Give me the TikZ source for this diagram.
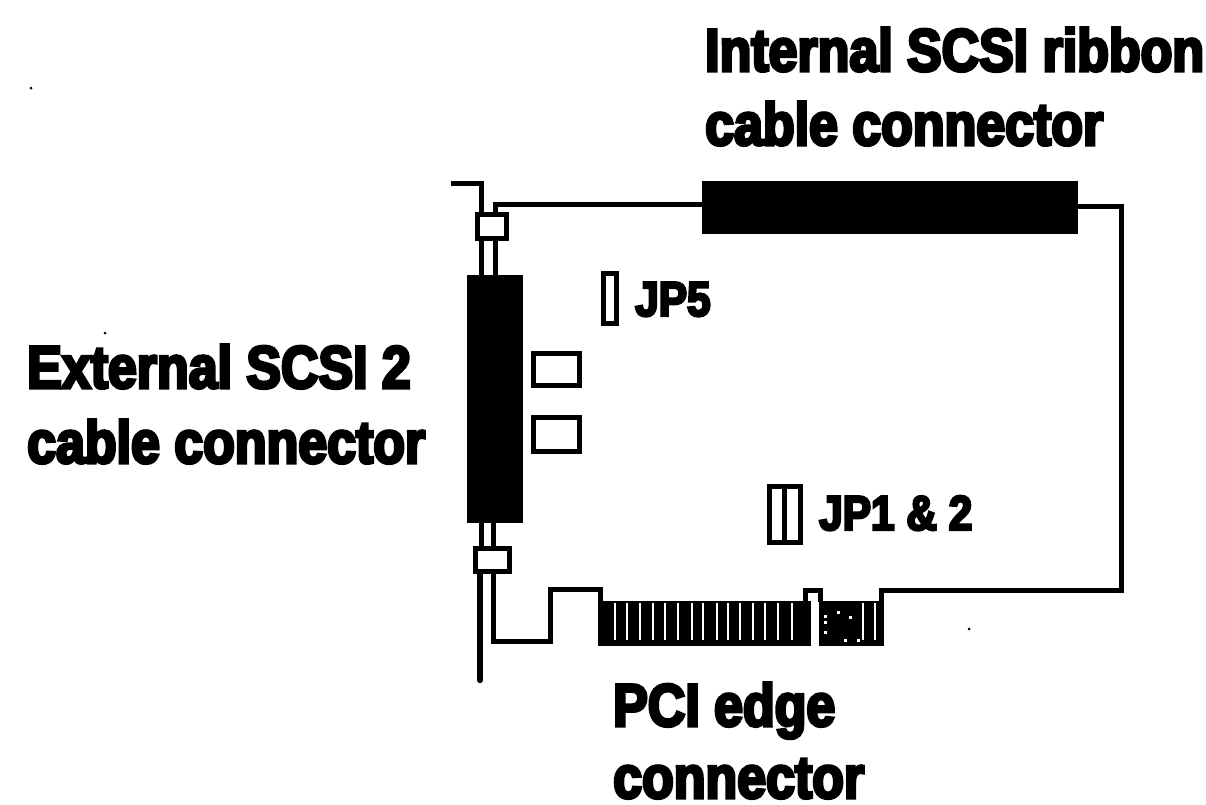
\documentclass[tikz,border=0pt]{standalone}
\usepackage{fontspec}
\setmainfont{Liberation Sans}[BoldFeatures={FakeBold=5,FakeStretch=0.865}]
\tikzset{
  x=1pt,y=-1pt,
  wire/.style={draw=black,line width=5pt,line cap=butt,line join=miter},
  solidbox/.style={fill=black,draw=none},
  slit/.style={fill=white,draw=none},
  outlinebox/.style={draw=black,fill=white,line width=5pt},
  label/.style={font=\fontsize{60}{60}\selectfont\bfseries,anchor=base west,inner sep=0pt,text=black},
  smalllabel/.style={font=\fontsize{49}{49}\selectfont\bfseries,anchor=base west,inner sep=0pt,text=black}
}
\begin{document}
\begin{tikzpicture}
\useasboundingbox (0,0) rectangle (1206,804);
\fill[white] (0,0) rectangle (1206,804);
% bracket and board outline
\draw[wire] (451,183) -- (481,183) -- (481,212);
\draw[wire] (481,240) -- (481,276);
\draw[wire] (495,240) -- (495,276);
\draw[wire] (495,214) -- (495,204) -- (704,204);
\draw[wire] (1076,206) -- (1121,206) -- (1121,590) -- (881,590) -- (881,646);
\draw[wire] (481,522) -- (481,548);
\draw[wire] (493,522) -- (493,548);
\draw[wire,line width=6.5pt,line cap=round] (480,572) -- (480,680);
\draw[wire] (493,572) -- (493,641) -- (550,641) -- (550,589.5) -- (600,589.5) -- (600,610);
\draw[wire] (805.5,602) -- (805.5,590) -- (820.5,590) -- (820.5,602);
% connectors
\fill[solidbox] (702,181) rectangle (1078,234);
\fill[solidbox] (467,275) rectangle (523,523);
% screw tabs
\draw[outlinebox] (477.5,214.5) rectangle (506.5,238.5);
\draw[outlinebox] (475.5,548.5) rectangle (509.5,571.5);
% small components
\draw[outlinebox] (533.5,353.5) rectangle (579.5,385.5);
\draw[outlinebox] (533.5,417.5) rectangle (579,451.5);
\draw[outlinebox] (603.5,273.5) rectangle (616.5,323.5);
\draw[outlinebox] (769,486) rectangle (800,542);
\fill[black] (782,486) rectangle (787,542);
% edge fingers
\fill[solidbox] (598,601) rectangle (811,646);
\fill[solidbox] (819,601) rectangle (883,646);
\foreach \sx in {615,627,640,653,665,678,692,703,717,728,740,753,765,778,792}{
  \fill[slit] (\sx-1.4,603) rectangle (\sx+1.4,640);
}
\foreach \sx in {863,875}{
  \fill[slit] (\sx-1.4,603) rectangle (\sx+1.4,640);
}
\foreach \dx/\dy in {825/616,825/622,825/632,838/612,850/617,845/640,858/640}{
  \fill[slit] (\dx-1.5,\dy-1.5) rectangle (\dx+1.5,\dy+1.5);
}
% specks
\fill[black] (31,88) circle (1.5);
\fill[black] (105,333) circle (1.5);
\fill[black] (969,629) circle (1.5);
% labels
\node[label] (internal) at (705,71) {Internal SCSI ribbon};
\node[label] (internalb) at (705,145) {cable connector};
\node[label] (external) at (27,388) {External SCSI 2};
\node[label] (externalb) at (27,463) {cable connector};
\node[smalllabel] (jp5) at (635,316) {JP5};
\node[smalllabel] (jp12) at (819,530) {JP1 \& 2};
\node[label] (pci) at (613,726) {PCI edge};
\node[label] (pcib) at (613,798) {connector};
\end{tikzpicture}
\end{document}
